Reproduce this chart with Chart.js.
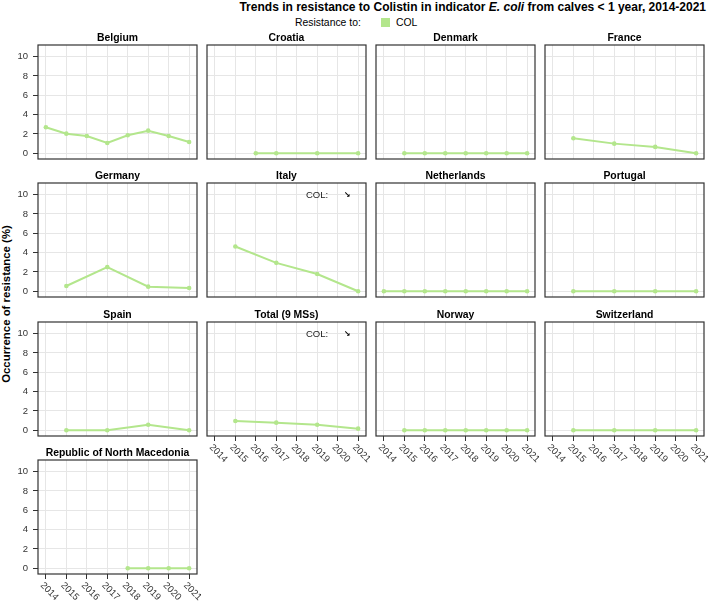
<!DOCTYPE html>
<html><head><meta charset="utf-8">
<script src="https://cdn.jsdelivr.net/npm/chart.js@4/dist/chart.umd.min.js"></script>
<style>
html,body{margin:0;padding:0;background:#fff;}
body{width:709px;height:602px;position:relative;overflow:hidden;font-family:"Liberation Sans",Arial,sans-serif;color:#000;}
.abs{position:absolute;white-space:nowrap;}
canvas{position:absolute;}
</style></head><body>
<div class="abs" style="right:3px;top:0px;font-weight:bold;font-size:12px;line-height:14px;">Trends in resistance to Colistin in indicator <i>E. coli</i> from calves &lt; 1 year, 2014-2021</div>
<div class="abs" id="legLabel" style="left:295px;top:17px;font-size:10.4px;line-height:12px;">Resistance to:</div>
<div class="abs" id="legBox" style="left:381px;top:18px;width:9px;height:9px;"></div>
<div class="abs" id="legText" style="left:396px;top:17px;font-size:10.4px;line-height:12px;"></div>
<div class="abs" style="left:6px;top:304px;font-weight:bold;font-size:11.4px;line-height:13px;transform:translate(-50%,-50%) rotate(-90deg);">Occurrence of resistance (%)</div>
<script>
// ---- data ----
const years = [2014, 2015, 2016, 2017, 2018, 2019, 2020, 2021];
const yTicks = [0, 2, 4, 6, 8, 10];
const seriesName = 'COL';
const panelNames = ['Belgium', 'Croatia', 'Denmark', 'France', 'Germany', 'Italy', 'Netherlands', 'Portugal', 'Spain', 'Total (9 MSs)', 'Norway', 'Switzerland', 'Republic of North Macedonia'];
const yearsBelgium = [2014, 2015, 2016, 2017, 2018, 2019, 2020, 2021];
const colBelgium = [2.69, 2.03, 1.79, 1.07, 1.86, 2.34, 1.79, 1.17];
const yearsCroatia = [2016, 2017, 2019, 2021];
const colCroatia = [0, 0, 0, 0];
const yearsDenmark = [2015, 2016, 2017, 2018, 2019, 2020, 2021];
const colDenmark = [0, 0, 0, 0, 0, 0, 0];
const yearsFrance = [2015, 2017, 2019, 2021];
const colFrance = [1.55, 1.0, 0.66, 0];
const yearsGermany = [2015, 2017, 2019, 2021];
const colGermany = [0.55, 2.5, 0.48, 0.34];
const yearsItaly = [2015, 2017, 2019, 2021];
const colItaly = [4.63, 2.94, 1.79, 0];
const yearsNetherlands = [2014, 2015, 2016, 2017, 2018, 2019, 2020, 2021];
const colNetherlands = [0, 0, 0, 0, 0, 0, 0, 0];
const yearsPortugal = [2015, 2017, 2019, 2021];
const colPortugal = [0, 0, 0, 0];
const yearsSpain = [2015, 2017, 2019, 2021];
const colSpain = [0, 0, 0.58, 0];
const yearsTotal = [2015, 2017, 2019, 2021];
const colTotal = [0.96, 0.79, 0.58, 0.17];
const yearsNorway = [2015, 2016, 2017, 2018, 2019, 2020, 2021];
const colNorway = [0, 0, 0, 0, 0, 0, 0];
const yearsSwitzerland = [2015, 2017, 2019, 2021];
const colSwitzerland = [0, 0, 0, 0];
const yearsRNM = [2018, 2019, 2020, 2021];
const colRNM = [0, 0, 0, 0];
const trendPanels = ['Italy', 'Total (9 MSs)'];
const trendLabel = 'COL:';
const trendArrow = '\u2198';

// ---- styling / layout ----
const GREEN = '#b3e68c';
const FONT = '"Liberation Sans", Arial, sans-serif';
document.getElementById('legBox').style.background = GREEN;
document.getElementById('legText').textContent = seriesName;

const panelYears = [yearsBelgium, yearsCroatia, yearsDenmark, yearsFrance, yearsGermany, yearsItaly, yearsNetherlands, yearsPortugal, yearsSpain, yearsTotal, yearsNorway, yearsSwitzerland, yearsRNM];
const panelValues = [colBelgium, colCroatia, colDenmark, colFrance, colGermany, colItaly, colNetherlands, colPortugal, colSpain, colTotal, colNorway, colSwitzerland, colRNM];

const colLeft = [38, 207, 376, 545];
const rowTop = [45, 183, 322, 460];
const boxW = 159, boxH = 114;
const nCols = 4;

const panelPlugin = {
  id: 'panelDeco',
  afterDraw(chart, args, opts) {
    const ctx = chart.ctx, a = chart.chartArea;
    ctx.save();
    ctx.strokeStyle = '#333333';
    ctx.lineWidth = 1.2;
    ctx.strokeRect(a.left, a.top, a.right - a.left, a.bottom - a.top);
    ctx.fillStyle = '#000';
    ctx.font = 'bold 10.4px ' + FONT;
    ctx.textAlign = 'center';
    ctx.textBaseline = 'middle';
    ctx.fillText(opts.title, (a.left + a.right) / 2, a.top - 7);
    if (opts.trend) {
      ctx.font = '9.5px ' + FONT;
      ctx.textAlign = 'left';
      ctx.fillStyle = '#1a1a1a';
      ctx.fillText(trendLabel, a.left + 99, a.top + 12);
      ctx.font = 'bold 8px "DejaVu Sans"';
      ctx.textAlign = 'center';
      ctx.fillStyle = '#000';
      ctx.fillText(trendArrow, a.left + 140, a.top + 11.5);
    }
    if (opts.bottom) {
      const xs = chart.scales.x;
      ctx.font = '9.5px ' + FONT;
      ctx.fillStyle = '#333333';
      ctx.textAlign = 'left';
      ctx.textBaseline = 'middle';
      years.forEach(yr => {
        const px = xs.getPixelForValue(yr);
        ctx.save();
        ctx.translate(px - 4, a.bottom + 10);
        ctx.rotate(Math.PI / 4);
        ctx.fillText(String(yr), 0, 0);
        ctx.restore();
      });
    }
    ctx.restore();
  }
};

panelNames.forEach((name, i) => {
  const col = i % nCols, row = Math.floor(i / nCols);
  const isLeft = col === 0;
  const isBottom = (i + nCols >= panelNames.length);
  const padL = isLeft ? 38 : 4, padT = 20, padR = 4, padB = isBottom ? 42 : 4;
  const cv = document.createElement('canvas');
  cv.width = padL + boxW + padR;
  cv.height = padT + boxH + padB;
  cv.style.left = (colLeft[col] - padL) + 'px';
  cv.style.top = (rowTop[row] - padT) + 'px';
  cv.style.width = cv.width + 'px';
  cv.style.height = cv.height + 'px';
  document.body.appendChild(cv);

  const pts = panelYears[i].map((yr, k) => ({x: yr, y: panelValues[i][k]}));

  new Chart(cv, {
    type: 'line',
    data: {datasets: [{
      label: seriesName,
      data: pts,
      borderColor: GREEN,
      backgroundColor: GREEN,
      borderWidth: 2,
      pointRadius: 2.3,
      pointBorderWidth: 0,
      pointBackgroundColor: GREEN,
      tension: 0,
      fill: false
    }]},
    options: {
      responsive: false,
      animation: false,
      devicePixelRatio: 1,
      layout: {padding: {left: isLeft ? 0 : padL, top: padT, right: padR, bottom: isBottom ? 0 : padB}},
      plugins: {
        legend: {display: false},
        tooltip: {enabled: false},
        title: {display: false},
        panelDeco: {title: name, trend: trendPanels.includes(name), bottom: isBottom}
      },
      scales: {
        x: {
          type: 'linear',
          min: 2013.615,
          max: 2021.385,
          afterBuildTicks: s => { s.ticks = years.map(v => ({value: v})); },
          afterFit: s => { s.height = isBottom ? padB : 0; s.paddingLeft = 0; s.paddingRight = 0; },
          ticks: {display: false},
          grid: {color: '#e6e6e6', lineWidth: 1, drawTicks: isBottom, tickLength: 5, tickColor: '#333333', tickWidth: 1},
          border: {display: false}
        },
        y: {
          type: 'linear',
          min: -0.59,
          max: 11.2,
          afterBuildTicks: s => { s.ticks = yTicks.map(v => ({value: v})); },
          afterFit: s => { s.width = isLeft ? padL : 0; s.paddingTop = 0; s.paddingBottom = 0; },
          ticks: {display: isLeft, font: {family: FONT, size: 9.5}, color: '#333333', padding: 5},
          grid: {color: '#e6e6e6', lineWidth: 1, drawTicks: isLeft, tickLength: 5, tickColor: '#333333', tickWidth: 1},
          border: {display: false}
        }
      }
    },
    plugins: [panelPlugin]
  });
});
</script>
</body></html>
